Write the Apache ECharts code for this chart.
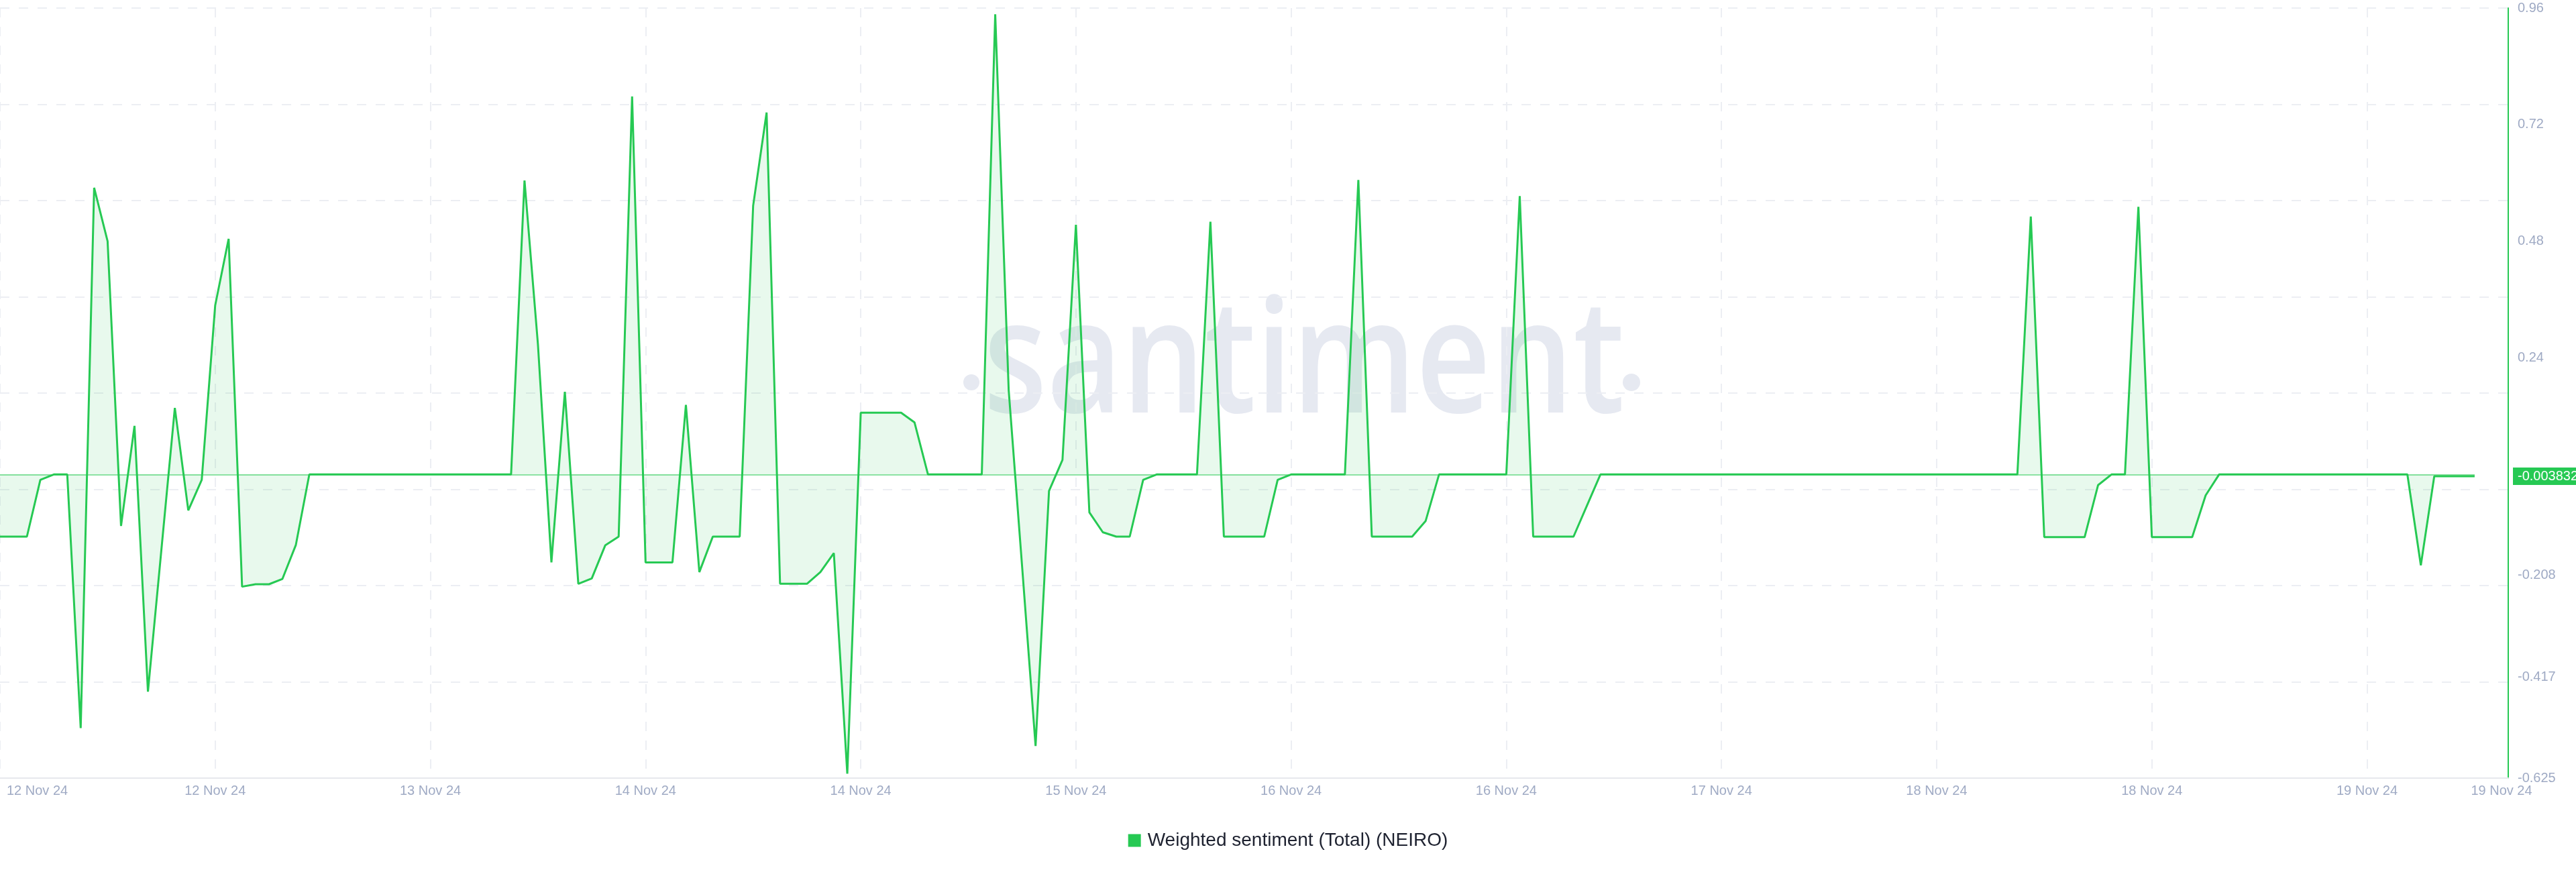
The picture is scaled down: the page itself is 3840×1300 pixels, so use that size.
<!DOCTYPE html>
<html><head><meta charset="utf-8">
<script src="https://cdn.jsdelivr.net/npm/echarts@6/dist/echarts.min.js"></script>
<style>html,body{margin:0;padding:0;background:#fff}#c{width:3840px;height:1300px}</style>
</head><body><div id="c"></div>
<script>
const seriesName = 'Weighted sentiment (Total) (NEIRO)';
// hourly weighted sentiment values, one per hour starting 12 Nov 24
const sentiment = [
 -0.128, -0.128, -0.128, -0.011, 0, 0, -0.522, 0.590, 0.480, -0.106,
 0.100, -0.447, -0.155, 0.137, -0.074, -0.011, 0.348, 0.485, -0.231, -0.226,
 -0.226, -0.215, -0.145, 0, 0, 0, 0, 0, 0, 0,
 0, 0, 0, 0, 0, 0, 0, 0, 0, 0.605,
 0.267, -0.181, 0.170, -0.225, -0.214, -0.146, -0.128, 0.778, -0.181, -0.181,
 -0.181, 0.143, -0.201, -0.128, -0.128, -0.128, 0.553, 0.745, -0.225, -0.225,
 -0.225, -0.201, -0.162, -0.616, 0.127, 0.127, 0.127, 0.127, 0.107, 0,
 0, 0, 0, 0, 0.947, 0.174, -0.190, -0.559, -0.034, 0.030,
 0.514, -0.078, -0.119, -0.128, -0.128, -0.011, 0, 0, 0, 0,
 0.520, -0.128, -0.128, -0.128, -0.128, -0.011, 0, 0, 0, 0,
 0, 0.606, -0.128, -0.128, -0.128, -0.128, -0.096, 0, 0, 0,
 0, 0, 0, 0.573, -0.128, -0.128, -0.128, -0.128, -0.064, 0,
 0, 0, 0, 0, 0, 0, 0, 0, 0, 0,
 0, 0, 0, 0, 0, 0, 0, 0, 0, 0,
 0, 0, 0, 0, 0, 0, 0, 0, 0, 0,
 0, 0.531, -0.129, -0.129, -0.129, -0.129, -0.022, 0, 0, 0.551,
 -0.129, -0.129, -0.129, -0.129, -0.043, 0, 0, 0, 0, 0,
 0, 0, 0, 0, 0, 0, 0, 0, 0, 0,
 -0.187, -0.003832, -0.003832, -0.003832, -0.003832
];
const xTickLabels = ['12 Nov 24','12 Nov 24','13 Nov 24','14 Nov 24','14 Nov 24','15 Nov 24',
  '16 Nov 24','16 Nov 24','17 Nov 24','18 Nov 24','18 Nov 24','19 Nov 24','19 Nov 24'];
const yLabelValues = [0.96, 0.72, 0.48, 0.24, -0.003832, -0.208, -0.417, -0.625];
const lastValue = -0.003832;

const X_MAX = 186.5, X_STEP = 16;
const Y_MIN = -0.625, Y_MAX = 0.96;
const GREEN = '#26c953', LABEL = '#9faac4', GRID = '#eceef3', MARK = '#e6e9f1';
const FONT = 'Liberation Sans';

const chart = echarts.init(document.getElementById('c'), null, {renderer: 'canvas'});
chart.setOption({
  animation: false,
  backgroundColor: '#ffffff',
  grid: {left: 0, right: 101, top: 12, bottom: 140, containLabel: false, outerBoundsMode: 'none'},
  graphic: {elements: [
    {type: 'text', z: -1, silent: true, x: 1944, y: 548, scaleX: 0.82,
     style: {text: 'santiment', fontSize: 236, fontFamily: 'Open Sans', fontWeight: 600,
             fill: MARK, align: 'center', verticalAlign: 'middle'}},
    {type: 'circle', z: -1, silent: true, shape: {cx: 1448, cy: 570, r: 12}, style: {fill: MARK}},
    {type: 'circle', z: -1, silent: true, shape: {cx: 2432, cy: 570, r: 13}, style: {fill: MARK}}
  ]},
  legend: {
    data: [seriesName], left: 'center', top: 1234, icon: 'rect',
    itemWidth: 19, itemHeight: 19,
    textStyle: {fontSize: 28, color: '#1e2230', fontFamily: FONT, padding: [0, 0, 0, 5]}
  },
  xAxis: {
    type: 'value', min: 0, max: X_MAX, interval: X_STEP,
    axisLine: {show: true, onZero: false, lineStyle: {color: '#e6e8ed', width: 2}},
    axisTick: {show: false},
    axisLabel: {
      color: LABEL, fontSize: 20, fontFamily: FONT, margin: 9,
      showMinLabel: true, showMaxLabel: true, alignMinLabel: 'left',
      formatter: function (v) {
        const k = v >= X_MAX ? xTickLabels.length - 1 : Math.round(v / X_STEP);
        if (k === 0) return '{first|' + xTickLabels[k] + '}';
        if (v >= X_MAX) return '{last|' + xTickLabels[k] + '}';
        return xTickLabels[k];
      },
      rich: {
        first: {color: LABEL, fontSize: 20, fontFamily: FONT, padding: [0, 0, 0, 10]},
        last: {color: LABEL, fontSize: 20, fontFamily: FONT, padding: [0, 20, 0, 0]}
      }
    },
    splitLine: {show: true, lineStyle: {color: GRID, width: 2, type: [14, 14]}}
  },
  yAxis: {
    type: 'value', position: 'right', min: Y_MIN, max: Y_MAX, interval: (Y_MAX - Y_MIN) / 8,
    axisLine: {show: true, onZero: false, lineStyle: {color: GREEN, width: 2}},
    axisTick: {show: false},
    splitLine: {show: true, lineStyle: {color: GRID, width: 2, type: [14, 14]}},
    axisLabel: {
      customValues: yLabelValues, margin: 7, fontFamily: FONT, fontSize: 20, color: LABEL,
      formatter: function (v) {
        return v === lastValue ? '{hl|' + v + '}' : '{n|' + v + '}';
      },
      rich: {
        n: {color: LABEL, fontSize: 20, fontFamily: FONT, padding: [0, 0, 0, 7]},
        hl: {color: '#ffffff', fontSize: 20, fontFamily: FONT, backgroundColor: GREEN, padding: [3, 12, 3, 7]}
      }
    }
  },
  series: [{
    name: seriesName, type: 'line', z: 3,
    data: sentiment.map(function (v, i) { return [i, v]; }),
    showSymbol: false, symbol: 'none',
    itemStyle: {color: GREEN},
    lineStyle: {color: GREEN, width: 3},
    areaStyle: {color: 'rgba(38,201,83,0.15)', origin: 0},
    markLine: {
      silent: true, symbol: ['none', 'none'], label: {show: false},
      lineStyle: {color: GREEN, width: 1.5, type: 'solid', opacity: 0.7},
      data: [[{coord: [0, 0]}, {coord: [sentiment.length - 1, 0]}]]
    }
  }]
});
</script></body></html>
